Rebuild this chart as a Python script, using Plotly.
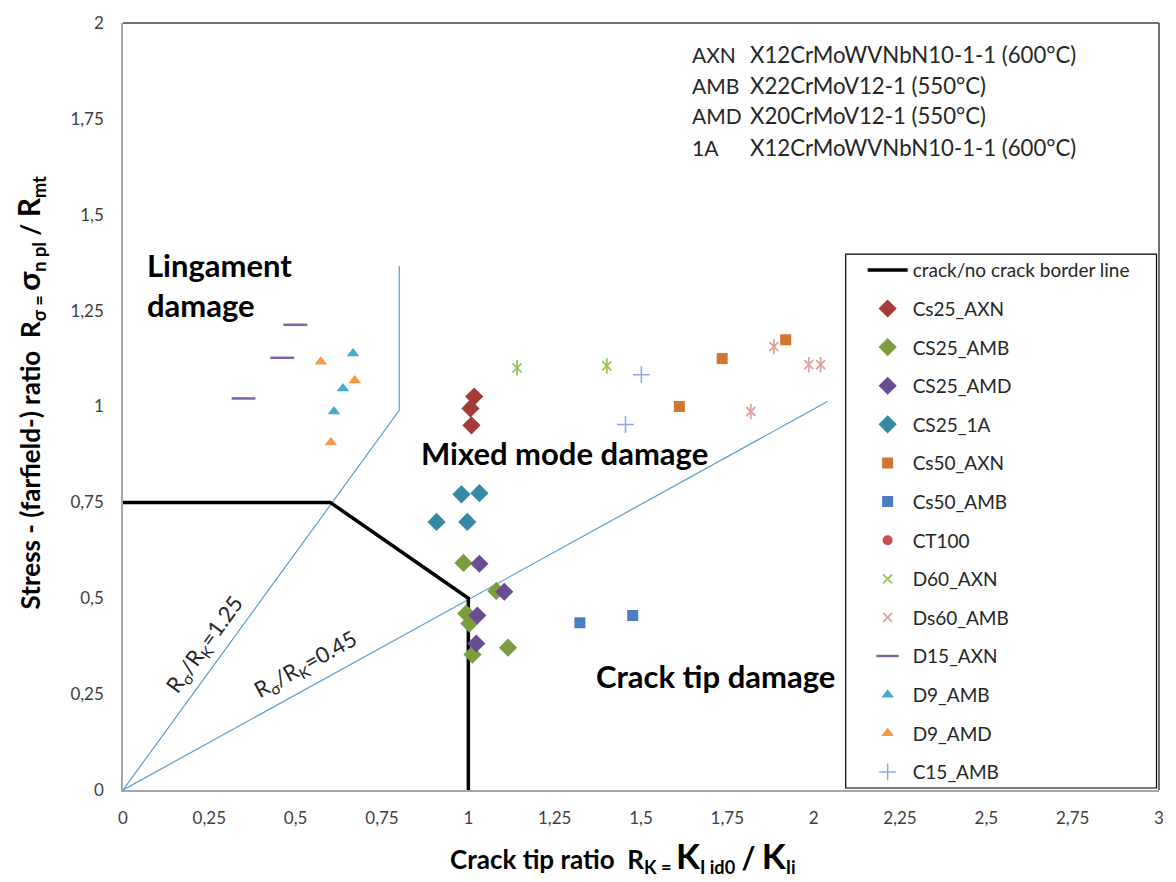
import plotly.graph_objects as go

# ---------------- data ----------------
border_x = [0, 0.6, 1.0, 1.0]
border_y = [0.75, 0.75, 0.5, 0.0]

ratio125_x = [0, 0.8, 0.8]
ratio125_y = [0, 0.99, 1.366]
ratio045_x = [0, 2.04]
ratio045_y = [0, 1.013]

cs25_axn_x = [1.017, 1.006, 1.009]
cs25_axn_y = [1.026, 0.995, 0.951]
cs25_amb_x = [0.986, 1.081, 0.994, 1.003, 1.012, 1.115]
cs25_amb_y = [0.592, 0.519, 0.460, 0.434, 0.353, 0.371]
cs25_amd_x = [1.032, 1.104, 1.026, 1.023]
cs25_amd_y = [0.590, 0.517, 0.455, 0.382]
cs25_1a_x = [0.980, 1.032, 0.908, 0.997]
cs25_1a_y = [0.771, 0.774, 0.699, 0.699]
cs50_axn_x = [1.611, 1.735, 1.919]
cs50_axn_y = [1.000, 1.125, 1.174]
cs50_amb_x = [1.323, 1.476]
cs50_amb_y = [0.436, 0.455]
ct100_x = [None]   # no visible CT100 points in the chart
ct100_y = [None]
d60_axn_x = [1.141, 1.401]
d60_axn_y = [1.101, 1.106]
ds60_amb_x = [1.885, 1.818, 1.986, 2.020]
ds60_amb_y = [1.156, 0.987, 1.109, 1.109]
d15_axn_x = [0.499, 0.461, 0.349]
d15_axn_y = [1.213, 1.127, 1.021]
d9_amb_x = [0.666, 0.637, 0.611]
d9_amb_y = [1.138, 1.047, 0.987]
d9_amd_x = [0.573, 0.671, 0.602]
d9_amd_y = [1.117, 1.068, 0.906]
c15_amb_x = [1.501, 1.455]
c15_amb_y = [1.083, 0.953]

x_ticks = [0, 0.25, 0.5, 0.75, 1, 1.25, 1.5, 1.75, 2, 2.25, 2.5, 2.75, 3]
x_ticktext = ["0", "0,25", "0,5", "0,75", "1", "1,25", "1,5", "1,75", "2", "2,25", "2,5", "2,75", "3"]
y_ticks = [0, 0.25, 0.5, 0.75, 1, 1.25, 1.5, 1.75, 2]
y_ticktext = ["0", "0,25", "0,5", "0,75", "1", "1,25", "1,5", "1,75", "2"]

material_codes = ["AXN", "AMB", "AMD", "1A"]
material_names = ["X12CrMoWVNbN10-1-1 (600°C)", "X22CrMoV12-1 (550°C)",
                  "X20CrMoV12-1 (550°C)", "X12CrMoWVNbN10-1-1 (600°C)"]

# ---------------- layout helpers ----------------
FONT = "Lato, 'Open Sans', sans-serif"
L, R, T, B = 122.5, 1162.5, 20, 790
W, H = 1176, 882
pw, ph = R - L, B - T


def px2paper(px, py):
    return (px - L) / pw, (B - py) / ph


legend_x, _ = px2paper(865, 0)
legend_first, legend_step = 268, 38.77
legend_layouts = {}
legend_counter = [0]


def next_legend():
    i = legend_counter[0]
    legend_counter[0] += 1
    key = "legend" if i == 0 else f"legend{i + 1}"
    _, ly = px2paper(0, legend_first + i * legend_step)
    legend_layouts[key] = dict(x=legend_x, y=ly, xanchor="left", yanchor="middle",
                               bgcolor="rgba(0,0,0,0)", borderwidth=0, itemwidth=40,
                               font=dict(size=19, color="#262626", family=FONT))
    return key


fig = go.Figure()

# blue guide lines (not in legend)
fig.add_trace(go.Scatter(x=ratio125_x, y=ratio125_y, mode="lines",
                         line=dict(color="#5B9BD5", width=1.2), showlegend=False, hoverinfo="skip"))
fig.add_trace(go.Scatter(x=ratio045_x, y=ratio045_y, mode="lines",
                         line=dict(color="#5B9BD5", width=1.2), showlegend=False, hoverinfo="skip"))

fig.add_trace(go.Scatter(x=border_x, y=border_y, mode="lines", name="crack/no crack border line",
                         line=dict(color="black", width=3.5), legend=next_legend()))

series = [
    ("Cs25_AXN", cs25_axn_x, cs25_axn_y, "diamond", "#A43B39", 14),
    ("CS25_AMB", cs25_amb_x, cs25_amb_y, "diamond", "#7B9D3E", 14),
    ("CS25_AMD", cs25_amd_x, cs25_amd_y, "diamond", "#6A4C93", 14),
    ("CS25_1A", cs25_1a_x, cs25_1a_y, "diamond", "#3589A2", 14),
    ("Cs50_AXN", cs50_axn_x, cs50_axn_y, "square", "#D17630", 11),
    ("Cs50_AMB", cs50_amb_x, cs50_amb_y, "square", "#4A7EC0", 11),
    ("CT100", ct100_x, ct100_y, "circle", "#C9504C", 10),
]
for name, xs, ys, sym, col, size in series:
    fig.add_trace(go.Scatter(x=xs, y=ys, mode="markers", name=name, legend=next_legend(),
                             marker=dict(symbol=sym, color=col, size=size, line=dict(width=0))))

# star markers (x + vertical bar)
stars = [("D60_AXN", d60_axn_x, d60_axn_y, "#9BC25A"),
         ("Ds60_AMB", ds60_amb_x, ds60_amb_y, "#DDA3A2")]
for name, xs, ys, col in stars:
    fig.add_trace(go.Scatter(x=xs, y=ys, mode="markers", name=name, legend=next_legend(),
                             marker=dict(symbol="x-thin-open", size=9, color=col, line=dict(width=1.8, color=col))))
    fig.add_trace(go.Scatter(x=xs, y=ys, mode="markers", showlegend=False,
                             marker=dict(symbol="line-ns-open", size=11, color=col, line=dict(width=1.8, color=col))))

others = [
    ("D15_AXN", d15_axn_x, d15_axn_y, "line-ew-open", "#8064A2", 17, 2.5),
    ("D9_AMB", d9_amb_x, d9_amb_y, "triangle-up", "#45ADC8", 11, 0),
    ("D9_AMD", d9_amd_x, d9_amd_y, "triangle-up", "#F79646", 11, 0),
    ("C15_AMB", c15_amb_x, c15_amb_y, "cross-thin-open", "#8EA9DB", 12, 1.5),
]
for name, xs, ys, sym, col, size, lw in others:
    fig.add_trace(go.Scatter(x=xs, y=ys, mode="markers", name=name, legend=next_legend(),
                             marker=dict(symbol=sym, color=col, size=size, line=dict(width=lw, color=col))))

annotations = []
# material info text
line_ys = [52, 83, 113, 145]
for code, name, ly in zip(material_codes, material_names, line_ys):
    xa, ya = px2paper(692, ly)
    xb, _ = px2paper(750, ly)
    annotations.append(dict(x=xa, y=ya, xref="paper", yref="paper", text=code, showarrow=False,
                            xanchor="left", yanchor="middle", font=dict(size=21, color="#262626", family=FONT)))
    annotations.append(dict(x=xb, y=ya, xref="paper", yref="paper", text=name, showarrow=False,
                            xanchor="left", yanchor="middle", font=dict(size=22.2, color="#262626", family=FONT)))

bold = dict(size=31, color="black", family=FONT)
annotations += [
    dict(x=0.063, y=1.425, text="<b>Lingament<br>damage</b>", showarrow=False, xanchor="left",
         yanchor="top", align="left", font=bold),
    dict(x=1.278, y=0.88, text="<b>Mixed mode damage</b>", showarrow=False, font=bold),
    dict(x=1.715, y=0.296, text="<b>Crack tip damage</b>", showarrow=False, font=bold),
    dict(x=0.238, y=0.377, text="R<sub>σ</sub>/R<sub>K</sub>=1.25", showarrow=False, textangle=-54,
         font=dict(size=22, color="#262626", family=FONT)),
    dict(x=0.529, y=0.327, text="R<sub>σ</sub>/R<sub>K</sub>=0.45", showarrow=False, textangle=-29,
         font=dict(size=22, color="#262626", family=FONT)),
]
xt, yt = px2paper(624, 856)
annotations.append(dict(
    x=xt, y=yt, xref="paper", yref="paper", showarrow=False, xanchor="center", yanchor="middle",
    text="<b>Crack tip ratio  R<sub>K = </sub><span style='font-size:35px'>K</span><sub>I id0</sub> "
         "<span style='font-size:30px'>/</span> <span style='font-size:35px'>K</span><sub>Ii</sub></b>",
    font=dict(size=26, color="black", family=FONT)))
xy, yy = px2paper(28, 391)
annotations.append(dict(
    x=xy, y=yy, xref="paper", yref="paper", showarrow=False, textangle=-90, xanchor="center", yanchor="middle",
    text="<b>Stress - (farfield-) ratio  R<sub>σ = </sub><span style='font-size:31px'>σ</span><sub>n pl</sub> "
         "/ <span style='font-size:30px'>R</span><sub>mt</sub></b>",
    font=dict(size=26, color="black", family=FONT)))

lx0, ly0 = px2paper(848, 788)
lx1, ly1 = px2paper(1160, 252)
shapes = [
    dict(type="line", xref="paper", yref="paper", x0=0, x1=1, y0=1, y1=1, line=dict(color="#404040", width=1.5)),
    dict(type="line", xref="paper", yref="paper", x0=1, x1=1, y0=0, y1=1, line=dict(color="#404040", width=1.5)),
    dict(type="rect", xref="paper", yref="paper", x0=lx0, x1=lx1, y0=ly0, y1=ly1,
         line=dict(color="black", width=1.2), fillcolor="white", layer="below"),
]

fig.update_layout(
    width=W, height=H,
    margin=dict(l=L, r=W - R, t=T, b=H - B, pad=0),
    paper_bgcolor="white", plot_bgcolor="white",
    font=dict(family=FONT, color="#404040"),
    showlegend=True,
    xaxis=dict(range=[0, 3], tickvals=x_ticks, ticktext=x_ticktext, showgrid=False, zeroline=False,
               showline=True, linecolor="#A6A6A6", linewidth=1.5, ticks="outside", ticklen=12,
               tickcolor="rgba(0,0,0,0)", tickfont=dict(size=17, color="#404040"), fixedrange=True),
    yaxis=dict(range=[0, 2], tickvals=y_ticks, ticktext=y_ticktext, showgrid=False, zeroline=False,
               showline=True, linecolor="#A6A6A6", linewidth=1.5, ticks="outside", ticklen=14,
               tickcolor="rgba(0,0,0,0)", tickfont=dict(size=17, color="#404040"), fixedrange=True),
    annotations=annotations,
    shapes=shapes,
    **legend_layouts,
)

fig.write_html("out.html")
